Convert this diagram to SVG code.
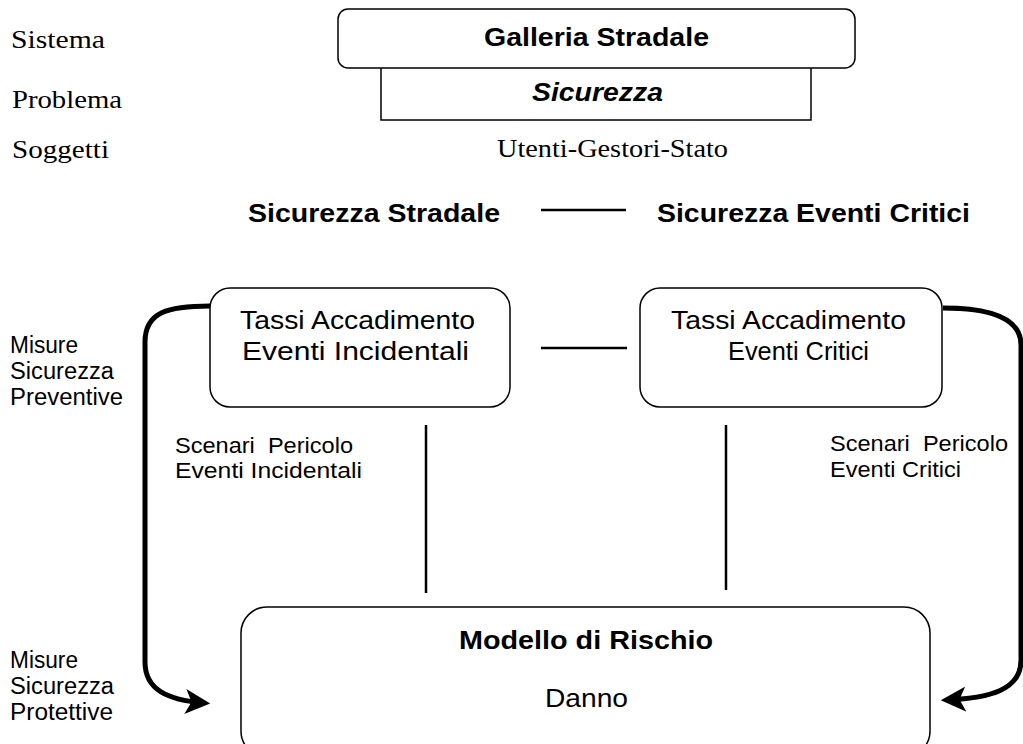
<svg xmlns="http://www.w3.org/2000/svg" width="1023" height="744" viewBox="0 0 1023 744">
<style>
.box{fill:#fff;stroke:#000;stroke-width:1.5}
.serif{font-family:"Liberation Serif",serif;font-size:26px;fill:#000}
.sans{font-family:"Liberation Sans",Arial,sans-serif;fill:#000}
.t26{font-size:26px}
.t25{font-size:25px}
.t23{font-size:23px}
.t22{font-size:22px}
.b{font-weight:bold}
.pre{white-space:pre}
.line{stroke:#000;stroke-width:2.5;fill:none}
.thick{stroke:#000;stroke-width:5;fill:none}
</style>
<defs>
<marker id="arr" viewBox="0 0 12 12" refX="9" refY="6" markerWidth="5" markerHeight="5" orient="auto" markerUnits="strokeWidth">
<path d="M0,0 L12,6 L0,12 L3,6 z" fill="#000"/>
</marker>
</defs>
<rect width="1023" height="744" fill="#fff"/>
<g id="labels-left">
<text class="serif" x="11" y="48" textLength="94" lengthAdjust="spacingAndGlyphs">Sistema</text>
<text class="serif" x="12" y="108" textLength="110" lengthAdjust="spacingAndGlyphs">Problema</text>
<text class="serif" x="12" y="158" textLength="97" lengthAdjust="spacingAndGlyphs">Soggetti</text>
<text class="sans t23" x="10" y="353" textLength="68" lengthAdjust="spacingAndGlyphs">Misure</text>
<text class="sans t23" x="10" y="379" textLength="104" lengthAdjust="spacingAndGlyphs">Sicurezza</text>
<text class="sans t23" x="10" y="405" textLength="113" lengthAdjust="spacingAndGlyphs">Preventive</text>
<text class="sans t23" x="10" y="668" textLength="68" lengthAdjust="spacingAndGlyphs">Misure</text>
<text class="sans t23" x="10" y="694" textLength="104" lengthAdjust="spacingAndGlyphs">Sicurezza</text>
<text class="sans t23" x="10" y="720" textLength="103" lengthAdjust="spacingAndGlyphs">Protettive</text>
</g>
<g id="problema">
<rect class="box" x="381" y="60" width="430" height="60"/>
<text class="sans t26 b" x="532" y="101" font-style="italic" textLength="131" lengthAdjust="spacingAndGlyphs">Sicurezza</text>
</g>
<g id="sistema">
<rect class="box" x="338" y="9" width="517" height="59" rx="10"/>
<text class="sans t26 b" x="484" y="46" textLength="225" lengthAdjust="spacingAndGlyphs">Galleria Stradale</text>
</g>
<g id="soggetti">
<text class="serif" x="497" y="157" textLength="231" lengthAdjust="spacingAndGlyphs">Utenti-Gestori-Stato</text>
</g>
<g id="heading">
<text class="sans t26 b" x="248" y="222" textLength="252" lengthAdjust="spacingAndGlyphs">Sicurezza Stradale</text>
<text class="sans t26 b" x="657" y="222" textLength="313" lengthAdjust="spacingAndGlyphs">Sicurezza Eventi Critici</text>
</g>
<g id="tassi-incidentali">
<rect class="box" x="210" y="288" width="300" height="119" rx="20"/>
<text class="sans t25" x="240" y="329" textLength="235" lengthAdjust="spacingAndGlyphs">Tassi Accadimento</text>
<text class="sans t25" x="242" y="360" textLength="227" lengthAdjust="spacingAndGlyphs">Eventi Incidentali</text>
</g>
<g id="tassi-critici">
<rect class="box" x="640" y="288" width="302" height="119" rx="20"/>
<text class="sans t25" x="671" y="329" textLength="235" lengthAdjust="spacingAndGlyphs">Tassi Accadimento</text>
<text class="sans t25" x="728" y="360" textLength="141" lengthAdjust="spacingAndGlyphs">Eventi Critici</text>
</g>
<g id="scenari">
<text class="sans t22 pre" x="175" y="453" textLength="178" lengthAdjust="spacingAndGlyphs">Scenari  Pericolo</text>
<text class="sans t22" x="175" y="478" textLength="187" lengthAdjust="spacingAndGlyphs">Eventi Incidentali</text>
<text class="sans t22 pre" x="830" y="451" textLength="178" lengthAdjust="spacingAndGlyphs">Scenari  Pericolo</text>
<text class="sans t22" x="830" y="477" textLength="131" lengthAdjust="spacingAndGlyphs">Eventi Critici</text>
</g>
<g id="modello">
<rect class="box" x="241" y="607" width="689" height="150" rx="26"/>
<text class="sans t25 b" x="459" y="649" textLength="254" lengthAdjust="spacingAndGlyphs">Modello di Rischio</text>
<text class="sans t25" x="545" y="707" textLength="83" lengthAdjust="spacingAndGlyphs">Danno</text>
</g>
<g id="connectors">
<line class="line" x1="541" y1="210" x2="626" y2="210"/>
<line class="line" x1="541" y1="348" x2="627" y2="348"/>
<line class="line" x1="426" y1="425" x2="426" y2="593"/>
<line class="line" x1="726" y1="425" x2="726" y2="590"/>
<path class="thick" d="M210,306 C168,306 145,312 145,342 L145,662 C145,690 168,700 204,703" marker-end="url(#arr)"/>
<path class="thick" d="M943,308 C995,308 1021,320 1021,345 L1021,660 C1021,690 990,698 947,700" marker-end="url(#arr)"/>
</g>
</svg>
